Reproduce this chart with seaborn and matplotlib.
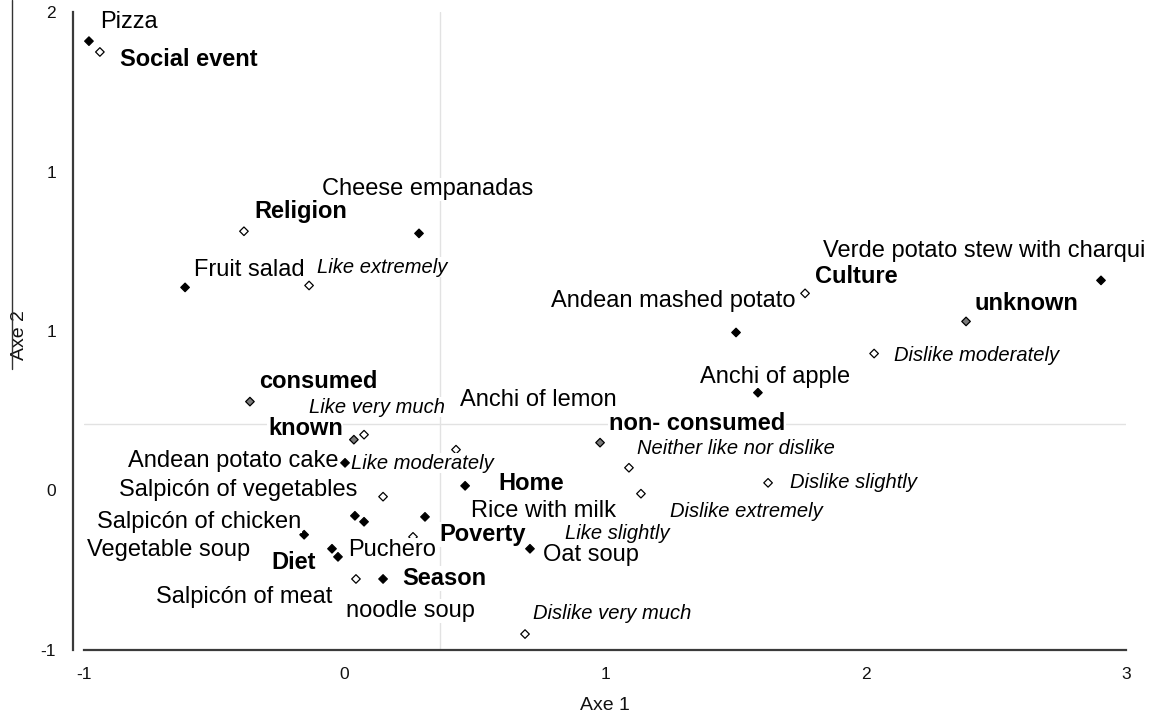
import matplotlib
matplotlib.use("Agg")
import matplotlib.pyplot as plt
from matplotlib.lines import Line2D
import numpy as np
import pandas as pd
import seaborn as sns

# ---------------- data (CA coordinates) ----------------
filled_x = [-0.981, 0.286, -0.612, 2.904, 1.503, 1.587, 0.002, 0.463, 0.040, 0.075,
            0.309, -0.155, -0.048, -0.025, 0.712, 0.148]
filled_y = [1.863, 0.959, 0.705, 0.738, 0.493, 0.210, -0.120, -0.228, -0.369, -0.397,
            -0.374, -0.458, -0.524, -0.562, -0.524, -0.666]

hollow_x = [-0.939, -0.386, -0.136, 1.768, 2.033, 0.075, 0.428, 1.092, 1.626, 0.148,
            1.138, 0.263, 0.044, 0.693]
hollow_y = [1.812, 0.969, 0.714, 0.677, 0.394, 0.0125, -0.058, -0.143, -0.214, -0.279,
            -0.265, -0.468, -0.666, -0.925]

gray_x = [-0.363, 0.036, 0.981, 2.386]
gray_y = [0.168, -0.011, -0.025, 0.545]

label_texts = ["Pizza", "Social event", "Religion", "Cheese empanadas", "Fruit salad",
               "Like extremely", "Verde potato stew with charqui", "Culture",
               "Andean mashed potato", "unknown", "Dislike moderately", "Anchi of apple",
               "consumed", "Like very much", "Anchi of lemon", "non- consumed", "known",
               "Neither like nor dislike", "Andean potato cake", "Like moderately",
               "Salpicón of vegetables", "Home", "Dislike slightly", "Rice with milk",
               "Dislike extremely", "Salpicón of chicken", "Like slightly", "Poverty",
               "Vegetable soup", "Puchero", "Oat soup", "Diet", "Season",
               "Salpicón of meat", "noodle soup", "Dislike very much"]
label_kinds = ["food", "reason", "reason", "food", "food",
               "liking", "food", "reason",
               "food", "reason", "liking", "food",
               "reason", "liking", "food", "reason", "reason",
               "liking", "food", "liking",
               "food", "reason", "liking", "food",
               "liking", "food", "liking", "reason",
               "food", "food", "food", "reason", "reason",
               "food", "food", "liking"]

x_ticks = [-1, 0, 1, 2, 3]
x_ticklabels = ["-1", "0", "1", "2", "3"]
y_ticks = [-1, -0.25, 0.5, 1.25, 2]
y_ticklabels = ["-1", "0", "1", "1", "2"]
ref_x = 0.367
ref_y = 0.064

# ---------------- layout (label anchor = left edge, baseline) ----------------
label_x = [-0.939, -0.862, -0.347, -0.086, -0.578, -0.106, 1.837, 1.806, 0.793, 2.417,
           2.109, 1.365, -0.328, -0.136, 0.443, 1.015, -0.294, 1.123, -0.830, 0.025,
           -0.866, 0.589, 1.710, 0.486, 1.250, -0.950, 0.846, 0.363, -0.988, 0.013,
           0.762, -0.282, 0.221, -0.724, 0.006, 0.724]
label_y = [1.925, 1.746, 1.030, 1.138, 0.757, 0.775, 0.846, 0.728, 0.611, 0.597,
           0.361, 0.257, 0.234, 0.116, 0.149, 0.036, 0.011, -0.077, -0.138, -0.148,
           -0.275, -0.247, -0.237, -0.374, -0.374, -0.425, -0.477, -0.487, -0.557, -0.557,
           -0.581, -0.619, -0.694, -0.779, -0.845, -0.854]

style_map = {"food": dict(fontsize=17, fontweight="normal", fontstyle="normal"),
             "reason": dict(fontsize=17, fontweight="bold", fontstyle="normal"),
             "liking": dict(fontsize=14.5, fontweight="normal", fontstyle="italic")}

# ---------------- build frame ----------------
df = pd.concat([
    pd.DataFrame({"x": filled_x, "y": filled_y, "kind": "filled"}),
    pd.DataFrame({"x": hollow_x, "y": hollow_y, "kind": "hollow"}),
    pd.DataFrame({"x": gray_x, "y": gray_y, "kind": "gray"}),
], ignore_index=True)

sns.set_style("white")
plt.rcParams["font.family"] = ["Liberation Sans", "DejaVu Sans"]

fig = plt.figure(figsize=(11.54, 7.19), dpi=100)
ax = fig.add_axes([84 / 1154, 69 / 719, 1042 / 1154, 638 / 719])

ax.axvline(ref_x, color="#e2e2e2", lw=1.0, zorder=1)
ax.axhline(ref_y, color="#e2e2e2", lw=1.0, zorder=1)

sns.scatterplot(data=df, x="x", y="y", hue="kind",
                palette={"filled": "black", "hollow": "white", "gray": "#7a7a7a"},
                marker="D", s=19, edgecolor="black", linewidth=0.9,
                legend=False, ax=ax, zorder=3)

for t, k, lx, ly in zip(label_texts, label_kinds, label_x, label_y):
    ax.text(lx, ly, t, ha="left", va="baseline", color="black", zorder=5,
            bbox=dict(boxstyle="square,pad=0.03", fc="white", ec="none"),
            **style_map[k])

ax.set_xlim(-1, 3)
ax.set_ylim(-1, 2)
ax.set_xticks(x_ticks)
ax.set_xticklabels(x_ticklabels)
ax.set_yticks(y_ticks)
ax.set_yticklabels(y_ticklabels)

for side in ["top", "right"]:
    ax.spines[side].set_visible(False)
for side in ["left", "bottom"]:
    ax.spines[side].set_color("#3a3a3a")
    ax.spines[side].set_linewidth(1.6)
ax.spines["left"].set_position(("outward", 8))
ax.spines["left"].set_bounds(-1, 2)
ax.spines["bottom"].set_bounds(-1, 3)

ax.tick_params(axis="both", direction="out", length=7, width=1.3, color="#3a3a3a",
               labelsize=12.5, pad=5, labelcolor="#111111")
ax.grid(False)

ax.set_xlabel("Axe 1", fontsize=14, color="#111111")
ax.xaxis.label.set_va("center")
ax.xaxis.set_label_coords(0.5, (650 - 705) / 638)
ax.set_ylabel("Axe 2", fontsize=14, color="#111111")
ax.yaxis.label.set_va("center")
ax.yaxis.set_label_coords((20 - 84) / 1042, (650 - 335) / 638)

# thin line beside the y-axis title as in the original
fig.add_artist(Line2D([12 / 1154, 12 / 1154], [1.0, (719 - 369) / 719],
                      transform=fig.transFigure, color="#333333", lw=1.0))

fig.savefig("out.png", dpi=100, facecolor="white")
